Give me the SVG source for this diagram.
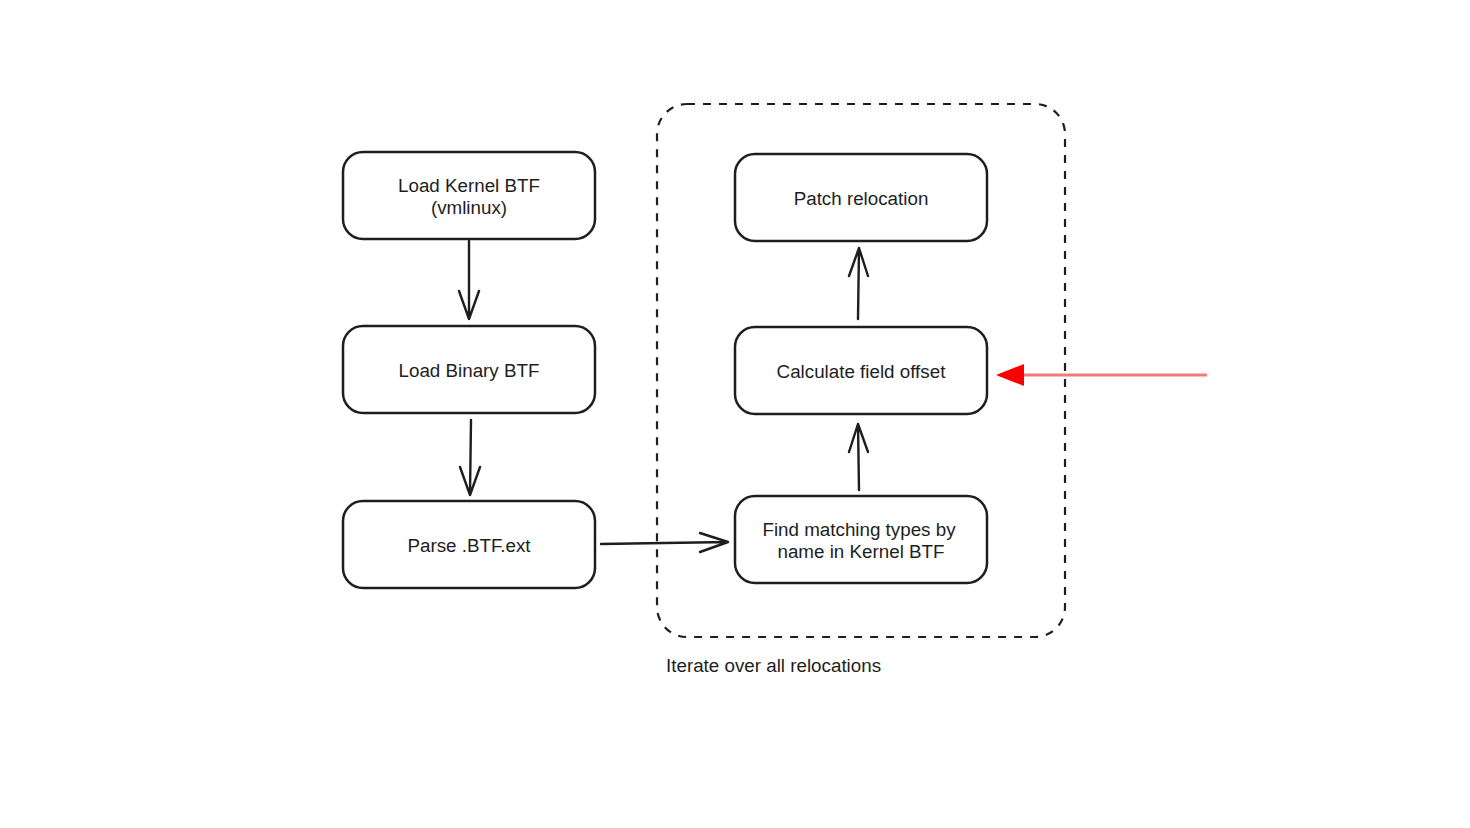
<svg xmlns="http://www.w3.org/2000/svg" width="1470" height="828" viewBox="0 0 1470 828">
<style>
.box{fill:#fff;stroke:#1e1e1e;stroke-width:2.5}
.t{font-family:"Liberation Sans",Arial,sans-serif;font-size:18.8px;fill:#1e1e1e;text-anchor:middle}
.c{fill:none;stroke:#1e1e1e;stroke-width:2.4;stroke-linecap:round;stroke-linejoin:round}
</style>
<rect width="1470" height="828" fill="#fff"/>
<g id="container">
<rect x="657" y="104" width="408" height="533" rx="30" fill="none" stroke="#1e1e1e" stroke-width="2.2" stroke-dasharray="8,8"/>
<text x="666" y="672" font-family="Liberation Sans,Arial,sans-serif" font-size="18.8" fill="#1e1e1e">Iterate over all relocations</text>
</g>
<g id="n1"><rect class="box" x="343" y="152" width="252" height="87" rx="20"/><text class="t" x="469" y="192">Load Kernel BTF</text><text class="t" x="469" y="214">(vmlinux)</text></g>
<g id="n2"><rect class="box" x="343" y="326" width="252" height="87" rx="20"/><text class="t" x="469" y="377">Load Binary BTF</text></g>
<g id="n3"><rect class="box" x="343" y="501" width="252" height="87" rx="20"/><text class="t" x="469" y="552">Parse .BTF.ext</text></g>
<g id="n4"><rect class="box" x="735" y="154" width="252" height="87" rx="20"/><text class="t" x="861" y="205">Patch relocation</text></g>
<g id="n5"><rect class="box" x="735" y="327" width="252" height="87" rx="20"/><text class="t" x="861" y="378">Calculate field offset</text></g>
<g id="n6"><rect class="box" x="735" y="496" width="252" height="87" rx="20"/><text class="t" x="859" y="536">Find matching types by</text><text class="t" x="861" y="558">name in Kernel BTF</text></g>
<g id="connectors">
<path class="c" d="M469,241 L469,319 M459,291 L469,319 L479,291"/>
<path class="c" d="M471,420 L470,495 M460,467 L470,495 L480,467"/>
<path class="c" d="M601,544 L728,542 M700,533 L728,542 L700,552"/>
<path class="c" d="M859,490 L858,424 M849,452 L858,424 L868,452"/>
<path class="c" d="M858,319 L859,248 M849,276 L859,248 L868,276"/>
<line x1="1207" y1="375" x2="1020" y2="375" stroke="#f07a7a" stroke-width="3"/>
<polygon points="996,375 1024,364 1024,386" fill="#ff0000"/>
</g>
</svg>
